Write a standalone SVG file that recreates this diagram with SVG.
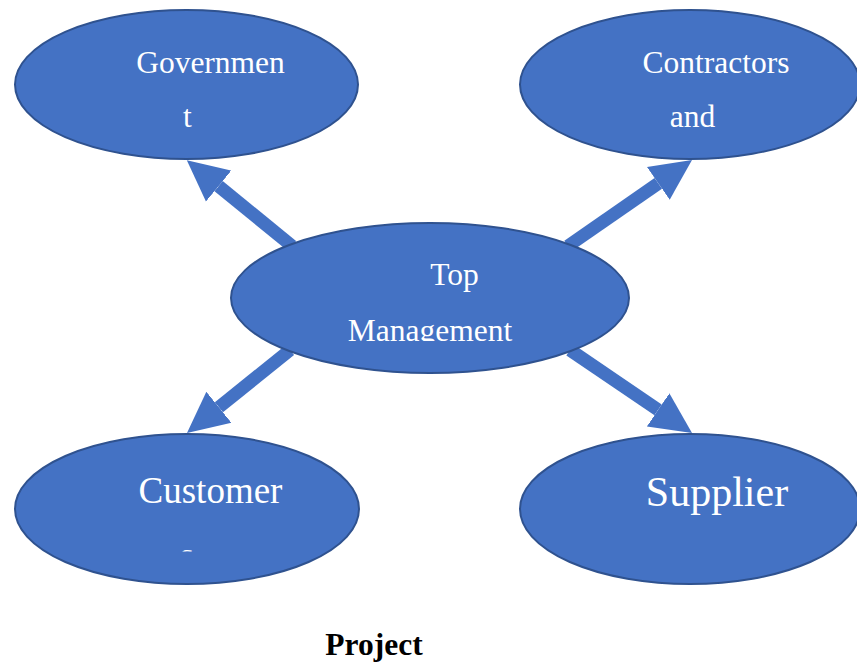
<svg xmlns="http://www.w3.org/2000/svg" width="857" height="663" viewBox="0 0 857 663">
  <style>
    .node { fill: #4472C4; stroke: #2F528F; stroke-width: 2; }
    .lbl { font-family: "Liberation Serif", "Times New Roman", serif; fill: #ffffff; text-anchor: middle; }
    .conn { stroke: #4472C4; stroke-width: 13; fill: none; marker-end: url(#head); }
  </style>
  <defs>
    <marker id="head" markerUnits="userSpaceOnUse" markerWidth="42" markerHeight="42" viewBox="0 0 42 42" refX="0" refY="21" orient="auto">
      <path d="M0,1 L41,21 L0,41 z" fill="#4472C4"/>
    </marker>
    <clipPath id="clipMgmt"><rect x="230" y="222" width="400" height="119"/></clipPath>
    <clipPath id="clipCust"><rect x="150" y="540" width="80" height="11.5"/></clipPath>
  </defs>
  <rect width="857" height="663" fill="#ffffff"/>
  <g id="connectors">
    <path class="conn" d="M292,246 L218.6,186.1"/>
    <path class="conn" d="M568,246 L658.3,183.4"/>
    <path class="conn" d="M290,350 L218.9,407.3"/>
    <path class="conn" d="M570,350 L658.1,409.9"/>
  </g>
  <g id="government">
    <ellipse class="node" cx="186.5" cy="84.5" rx="171.5" ry="74.5"/>
    <text class="lbl" x="210.5" y="73" font-size="31.5">Governmen</text>
    <text class="lbl" x="187.5" y="127" font-size="31.5">t</text>
  </g>
  <g id="contractors">
    <ellipse class="node" cx="690" cy="84.5" rx="170" ry="74.5"/>
    <text class="lbl" x="716" y="73" font-size="31.5">Contractors</text>
    <text class="lbl" x="692.5" y="127" font-size="31.5">and</text>
  </g>
  <g id="top-management">
    <ellipse class="node" cx="430" cy="298" rx="199" ry="75"/>
    <text class="lbl" x="454.5" y="285" font-size="31.5">Top</text>
    <text class="lbl" x="430" y="341" font-size="31.5" clip-path="url(#clipMgmt)">Management</text>
  </g>
  <g id="customer">
    <ellipse class="node" cx="187" cy="509" rx="172" ry="75"/>
    <text class="lbl" x="210.5" y="503" font-size="37">Customer</text>
    <text class="lbl" x="187" y="568" font-size="37" clip-path="url(#clipCust)">s</text>
  </g>
  <g id="supplier">
    <ellipse class="node" cx="690" cy="509" rx="170" ry="75"/>
    <text class="lbl" x="717" y="506" font-size="42">Supplier</text>
  </g>
  <g id="caption">
    <text x="374" y="655" font-family="'Liberation Serif', 'Times New Roman', serif" font-weight="bold" font-size="31.5" fill="#000000" text-anchor="middle">Project</text>
  </g>
</svg>
